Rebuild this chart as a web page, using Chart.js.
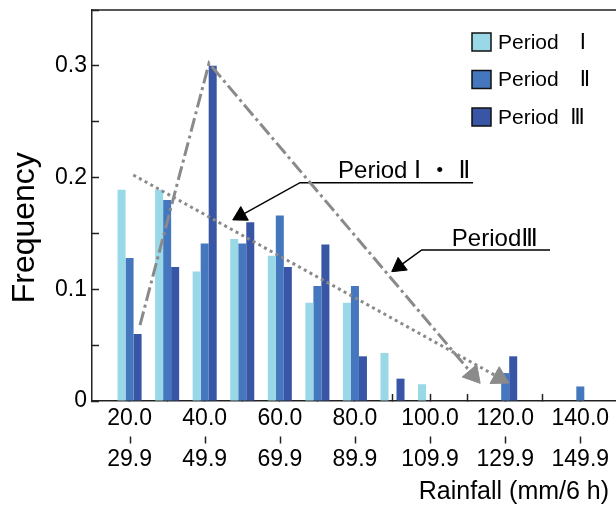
<!DOCTYPE html>
<html lang="en">
<head>
<meta charset="UTF-8">
<title>Rainfall frequency by period</title>
<style>
  html, body { margin: 0; padding: 0; background: #fff; overflow: hidden; }
  .wrap { position: relative; width: 616px; height: 510px; }
</style>
</head>
<body>
<div class="wrap"><canvas id="chart"></canvas></div>

<script src="https://cdn.jsdelivr.net/npm/chart.js"></script>
<script>
  // 10 mm rainfall classes (lower bound of each bin)
  const binStart = [20, 30, 40, 50, 60, 70, 80, 90, 100, 110, 120, 130, 140];

  // frequency of each class, per period
  const period1 = [0.189, 0.189, 0.116, 0.145, 0.130, 0.088, 0.088, 0.043, 0.015, 0, 0, 0, 0];
  const period2 = [0.128, 0.180, 0.141, 0.141, 0.166, 0.103, 0.103, 0, 0, 0, 0.025, 0, 0.013];
  const period3 = [0.060, 0.120, 0.300, 0.160, 0.120, 0.140, 0.040, 0.020, 0, 0, 0.040, 0, 0];

  // labelled classes on the x axis
  const tickAt = [20, 40, 60, 80, 100, 120, 140];
  const tickLow = ['20.0', '40.0', '60.0', '80.0', '100.0', '120.0', '140.0'];
  const tickHigh = ['29.9', '49.9', '69.9', '89.9', '109.9', '129.9', '149.9'];
  const yTicks = [0, 0.1, 0.2, 0.3];

  // hand drawn trend lines and callouts (data coordinates, last point = arrow head)
  const trendI_II = [{x: 21.0, y: 0.2023}, {x: 118.47, y: 0.0208}];
  const trendIII = [{x: 22.78, y: 0.068}, {x: 41.15, y: 0.3023}, {x: 111.44, y: 0.0233}];
  const calloutI_II = [{x: 111.44, y: 0.1954}, {x: 65.38, y: 0.1954}, {x: 49.56, y: 0.166}];
  const calloutIII = [{x: 131.94, y: 0.1352}, {x: 97.78, y: 0.1352}, {x: 91.74, y: 0.1205}];
  const calloutText = [
    {text: 'Period Ⅰ ・ Ⅱ', x: 75.5, y: 0.1994},
    {text: 'PeriodⅢ', x: 105.8, y: 0.1388}
  ];

  const font = "'Liberation Sans', Arial, 'Noto Sans CJK JP', sans-serif";
  // roman numerals come from DejaVu Sans, the dot from the CJK font
  const numeralFont = "'Liberation Sans', 'DejaVu Sans', 'Noto Sans CJK JP', sans-serif";
  Chart.defaults.font.family = font;
  Chart.defaults.color = '#000';

  const xMin = 10, xMax = 149.5;

  function tickText(list) {
    return v => {
      const i = tickAt.indexOf(v);
      return i < 0 ? '' : list[i];
    };
  }

  function isLast(ctx) {
    return ctx.dataIndex === ctx.dataset.data.length - 1;
  }

  // rotate the triangle so that it points along the last segment
  function arrowRotation(ctx) {
    const d = ctx.dataset.data, i = ctx.dataIndex;
    if (i === 0) return 0;
    const xs = ctx.chart.scales.x, ys = ctx.chart.scales.y;
    const dx = xs.getPixelForValue(d[i].x) - xs.getPixelForValue(d[i - 1].x);
    const dy = ys.getPixelForValue(d[i].y) - ys.getPixelForValue(d[i - 1].y);
    return Math.atan2(dx, -dy) * 180 / Math.PI;
  }

  function arrowLine(points, color, width, dash, head) {
    return {
      type: 'line',
      data: points,
      xAxisID: 'x',
      yAxisID: 'y',
      order: -1,
      borderColor: color,
      borderWidth: width,
      borderDash: dash,
      borderCapStyle: 'butt',
      fill: false,
      tension: 0,
      pointStyle: 'triangle',
      pointRadius: ctx => isLast(ctx) ? head : 0,
      pointHoverRadius: 0,
      pointBackgroundColor: color,
      pointBorderColor: color,
      pointBorderWidth: 1,
      pointRotation: arrowRotation
    };
  }

  // top edge of the frame and the small dash between the two label rows
  const frame = {
    id: 'frame',
    beforeDatasetsDraw(chart) {
      const {ctx, chartArea, scales} = chart;
      ctx.save();
      ctx.strokeStyle = '#222';
      ctx.lineWidth = 1.5;
      ctx.beginPath();
      ctx.moveTo(chartArea.left, chartArea.top);
      ctx.lineTo(chartArea.right, chartArea.top);
      const m = scales.xMark;
      const mid = (m.top + m.bottom) / 2;
      tickAt.forEach(v => {
        const px = Math.round(scales.x.getPixelForValue(v)) + 0.5;
        ctx.moveTo(px, mid - 3.5);
        ctx.lineTo(px, mid + 3.5);
      });
      ctx.stroke();
      ctx.restore();
    }
  };

  const callouts = {
    id: 'callouts',
    afterDatasetsDraw(chart) {
      const {ctx, scales} = chart;
      ctx.save();
      ctx.font = '24px ' + numeralFont;
      ctx.fillStyle = '#000';
      ctx.textBaseline = 'alphabetic';
      calloutText.forEach(t => {
        ctx.fillText(t.text, scales.x.getPixelForValue(t.x), scales.y.getPixelForValue(t.y));
      });
      ctx.restore();
    }
  };

  const periodLegend = {
    id: 'periodLegend',
    afterDatasetsDraw(chart) {
      const {ctx, chartArea} = chart;
      const x0 = chartArea.right - 144, y0 = chartArea.top + 32;
      chart.data.datasets.filter(d => d.type !== 'line').forEach((d, i) => {
        const y = y0 + i * 37.5;
        ctx.save();
        ctx.fillStyle = d.backgroundColor;
        ctx.fillRect(x0, y - 9, 19, 18);
        ctx.strokeStyle = '#111';
        ctx.lineWidth = 1.5;
        ctx.strokeRect(x0, y - 9, 19, 18);
        ctx.font = '21px ' + numeralFont;
        ctx.fillStyle = '#000';
        ctx.textBaseline = 'middle';
        ctx.fillText(d.label, x0 + 26, y + 1);
        ctx.restore();
      });
    }
  };

  const sideAxis = (weight, size, padding, callback) => ({
    type: 'linear',
    axis: 'x',
    position: 'bottom',
    weight: weight,
    min: xMin,
    max: xMax,
    offset: false,
    ticks: {
      stepSize: 10, includeBounds: false, autoSkip: false, maxRotation: 0, minRotation: 0,
      padding: padding, font: {size: size}, color: '#000', callback: callback
    },
    grid: {display: false, drawTicks: false, offset: false},
    border: {display: false}
  });

  const markAxis = sideAxis(1, 9, 0, () => '');
  markAxis.ticks.display = false;
  markAxis.afterFit = s => { s.height = 12; s.paddingLeft = 0; s.paddingRight = 0; };

  const highAxis = sideAxis(2, 23, 0, tickText(tickHigh));
  highAxis.title = {
    display: true, text: 'Rainfall (mm/6 h) ', align: 'end',
    font: {size: 25}, color: '#000', padding: {top: 0, bottom: 3}
  };
  highAxis.afterFit = s => { s.height = 64; s.paddingLeft = 0; s.paddingRight = 0; };

  new Chart(document.getElementById('chart'), {
    type: 'bar',
    data: {
      labels: binStart,
      datasets: [
        {label: 'Period\u3000Ⅰ', data: period1, backgroundColor: '#99D8E6', xAxisID: 'x', yAxisID: 'y'},
        {label: 'Period\u3000Ⅱ', data: period2, backgroundColor: '#4477BE', xAxisID: 'x', yAxisID: 'y'},
        {label: 'Period  Ⅲ', data: period3, backgroundColor: '#3955A5', xAxisID: 'x', yAxisID: 'y'},
        arrowLine(trendI_II, '#8a8a8a', 3, [3, 3.5], 11),
        arrowLine(trendIII, '#8a8a8a', 3, [14, 4, 3, 4], 11),
        arrowLine(calloutI_II, '#000', 1.5, [], 9),
        arrowLine(calloutIII, '#000', 1.5, [], 9)
      ]
    },
    options: {
      responsive: true,
      maintainAspectRatio: false,
      animation: false,
      layout: {autoPadding: false, padding: {top: 10, left: 0, right: 0, bottom: 0}},
      datasets: {bar: {barPercentage: 1, categoryPercentage: 0.64, borderWidth: 0}},
      plugins: {legend: {display: false}, tooltip: {enabled: false}},
      scales: {
        x: {
          type: 'linear',
          position: 'bottom',
          weight: 0,
          min: xMin,
          max: xMax,
          offset: false,
          ticks: {
            stepSize: 10, includeBounds: false, autoSkip: false, maxRotation: 0, minRotation: 0,
            padding: 11, font: {size: 23}, color: '#000', callback: tickText(tickLow)
          },
          grid: {
            offset: false, drawOnChartArea: false, tickLength: -7, tickWidth: 1.5,
            tickColor: ctx => (ctx.tick && ctx.tick.value >= 20 && ctx.tick.value <= 140) ? '#222' : 'rgba(0,0,0,0)'
          },
          border: {color: '#222', width: 1.5},
          afterFit: s => { s.height = 33; s.paddingLeft = 0; s.paddingRight = 0; }
        },
        xMark: markAxis,
        xHigh: highAxis,
        y: {
          min: 0,
          max: 0.35,
          ticks: {
            stepSize: 0.05, padding: 12, font: {size: 23}, color: '#000',
            callback: v => {
              const r = Math.round(v * 100) / 100;
              return yTicks.includes(r) ? String(r) : '';
            }
          },
          grid: {drawOnChartArea: false, tickLength: -7, tickWidth: 1.5, tickColor: '#222'},
          border: {color: '#222', width: 1.5},
          title: {
            display: true, text: 'Frequency     ', font: {size: 32}, color: '#000',
            padding: {top: 6, bottom: 0}
          },
          afterFit: s => { s.width = 92; s.paddingTop = 0; s.paddingBottom = 0; }
        }
      }
    },
    plugins: [frame, callouts, periodLegend]
  });
</script>
</body>
</html>
